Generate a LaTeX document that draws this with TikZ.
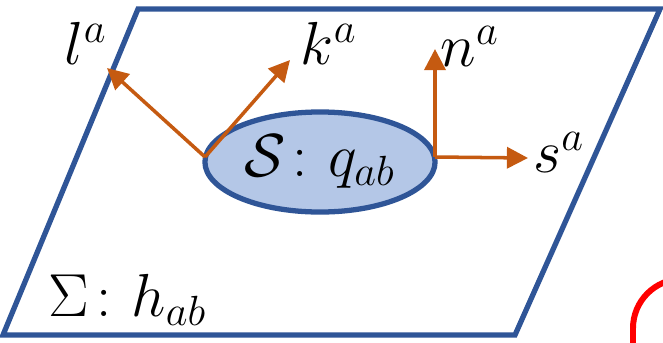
\documentclass[tikz,border=0pt]{standalone}
\usepackage{amsmath,amssymb}
\usepackage{tikz}
\usepackage{xcolor}
\usetikzlibrary{shapes.geometric, arrows.meta, positioning}
\definecolor{sheetblue}{RGB}{47,85,151}
\definecolor{surffill}{RGB}{180,199,231}
\definecolor{vecorange}{RGB}{197,90,17}
\tikzset{
  sheet/.style={draw=sheetblue, line width=1.5pt, line join=miter},
  surface/.style={ellipse, draw=sheetblue, fill=surffill, line width=1.5pt,
                  minimum width=2.3cm, minimum height=1.0cm, inner sep=0pt},
  vec/.style={-{Triangle[length=6pt, width=6pt]}, draw=vecorange, line width=1pt},
  veclabel/.style={inner sep=0pt},
  frame/.style={draw=red, line width=1.7pt},
}

\begin{document}
\begin{tikzpicture}[x=0.01cm, y=-0.01cm, font=\fontsize{17pt}{20pt}\selectfont]
  \useasboundingbox (0,0) rectangle (663,342);

  % hypersurface Sigma
  \draw[sheet] (138,9) -- (660,9) -- (515,335) -- (3,335) -- cycle;
  \node[veclabel] (sig) at (128,300) {$\Sigma\colon h_{ab}$};

  % two-surface S
  \node[surface] (surf) at (320,162) {$\mathcal{S}\colon q_{ab}$};
  \coordinate (lbase) at (205,157);
  \coordinate (rbase) at (435,157);

  % tips of the null and spatial vectors
  \coordinate (ltip) at (107,68);
  \coordinate (ktip) at (290,60);
  \coordinate (ntip) at (435,49);
  \coordinate (stip) at (528,158);

  \foreach \a/\b in {lbase/ltip, lbase/ktip, rbase/ntip, rbase/stip}
    \draw[vec] (\a) -- (\b);

  \node[veclabel] (lab-l) at (86,43)  {$l^a$};
  \node[veclabel] (lab-k) at (329,43) {$k^a$};
  \node[veclabel] (lab-n) at (470,46) {$n^a$};
  \node[veclabel] (lab-s) at (559,152) {$s^a$};

  % corner of the next box
  \draw[frame, rounded corners=14] (633,345) -- (633,279) -- (668,279);
\end{tikzpicture}
\end{document}
